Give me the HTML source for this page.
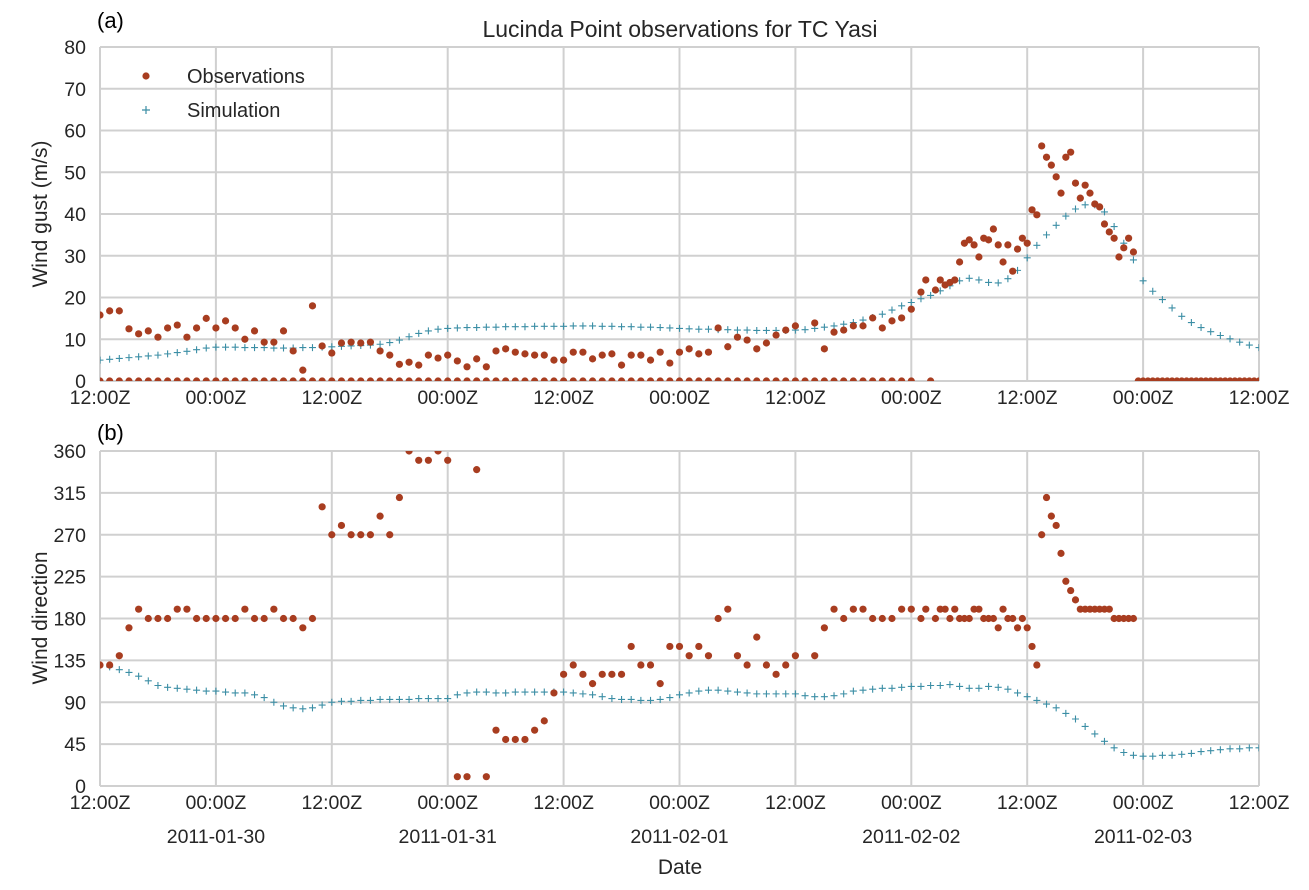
<!DOCTYPE html>
<html><head><meta charset="utf-8"><style>
html,body{margin:0;padding:0;background:#fff;}
svg{display:block;font-family:"Liberation Sans",Arial,sans-serif;}
</style></head><body>
<svg id="chart" width="1309" height="890" viewBox="0 0 1309 890" xmlns="http://www.w3.org/2000/svg">
<defs>
<clipPath id="clipTop"><rect x="100" y="47" width="1159" height="334"/></clipPath>
<clipPath id="clipBot"><rect x="100" y="451" width="1159" height="335"/></clipPath>
</defs>
<text x="680" y="37" font-size="23" text-anchor="middle" fill="#262626">Lucinda Point observations for TC Yasi</text>
<text x="97" y="28" font-size="22" fill="#000">(a)</text>
<text x="97" y="440" font-size="22" fill="#000">(b)</text>
<text transform="translate(47,214) rotate(-90)" font-size="21" text-anchor="middle" fill="#262626">Wind gust (m/s)</text>
<text transform="translate(47,618) rotate(-90)" font-size="21" text-anchor="middle" fill="#262626">Wind direction</text>
<text x="680" y="874" font-size="21" text-anchor="middle" fill="#262626">Date</text>
<g id="gTop"></g>
<g id="gBot"></g>
<g>
<circle cx="146" cy="76" r="3.6" fill="#a83d20"/>
<text x="187" y="83" font-size="20" fill="#262626">Observations</text>
<path d="M142 110h8M146 106v8" stroke="#3b8ea5" stroke-width="1.2"/>
<text x="187" y="117" font-size="20" fill="#262626">Simulation</text>
</g>
</svg>
<script>
const obsHours = [];
for (let h = 0; h <= 85; h++) if (h !== 73) obsHours.push(h);
[85.5,86.5,87,87.5,88,88.5,89,89.5,90,90.5,91,91.5,92,92.5,93,93.5,94,94.5,95,95.5,96,96.5,97,97.5,98,98.5,99,99.5,100,100.5,101,101.5,102,102.5,103,103.5,104,104.5,105,105.5,106,106.5,107].forEach(h=>obsHours.push(h));
const obsGust = [15.8,16.8,16.8,12.5,11.3,12,10.5,12.7,13.4,10.5,12.7,15,12.7,14.4,12.7,10,12,9.3,9.3,12,7.2,2.6,18,8.4,6.7,9.1,9.3,9.1,9.3,7.2,6.2,4,4.5,3.8,6.2,5.5,6.2,4.8,3.4,5.3,3.4,7.2,7.7,6.9,6.5,6.2,6.2,5,5,6.9,6.9,5.3,6.2,6.5,3.8,6.2,6.2,5,6.9,4.3,6.9,7.7,6.5,6.9,12.7,8.2,10.5,9.8,7.7,9.1,11,12.2,13.2,13.9,7.7,11.7,12.2,13.2,13.2,15.1,12.7,14.4,15.1,17.2,21.3,
24.2,21.8,24.2,23,23.6,24.2,28.5,33,33.8,32.6,29.7,34.2,33.8,36.4,32.6,28.5,32.6,26.3,31.6,34.2,33,41,39.8,56.3,53.6,51.7,48.9,45,53.6,54.8,47.4,43.8,46.9,45,42.4,41.7,37.6,35.7,34.2,29.7,31.9,34.2,30.9];
const obsDir = [130,130,140,170,190,180,180,180,190,190,180,180,180,180,180,190,180,180,190,180,180,170,180,300,270,280,270,270,270,290,270,310,360,350,350,360,350,10,10,340,10,60,50,50,50,60,70,100,120,130,120,110,120,120,120,150,130,130,110,150,150,140,150,140,180,190,140,130,160,130,120,130,140,140,170,190,180,190,190,180,180,180,190,190,180,
190,180,190,190,180,190,180,180,180,190,190,180,180,180,170,190,180,180,170,180,170,150,130,270,310,290,280,250,220,210,200,190,190,190,190,190,190,190,180,180,180,180,180];
const zeroHours = [];
for (let h = 0; h <= 84; h++) zeroHours.push(h);
zeroHours.push(86);
for (let h = 107.5; h <= 120; h += 0.5) zeroHours.push(h);
const simGust = [5,5.2,5.4,5.6,5.8,6,6.2,6.5,6.8,7.1,7.5,7.9,8.1,
8.1,8.1,8,8,8,7.9,7.9,7.9,8,8,8.1,8.2,8.3,8.4,8.5,8.6,
8.8,9.2,9.8,10.6,11.4,12,12.4,12.6,
12.7,12.8,12.8,12.9,12.9,13,13,13,13.1,13.1,13.1,13.1,13.2,13.2,13.2,13.1,13.1,13,13,12.9,12.9,12.8,12.7,12.6,
12.5,12.4,12.4,12.3,12.3,12.2,12.2,12.1,12.1,12.1,12.1,12.2,12.3,12.6,12.9,13.2,13.6,14,
14.6,15.2,16,17,18,18.8,19.7,20.5,21.6,22.8,24,24.6,24.2,23.6,23.5,24.5,26.5,29.5,32.5,35,37.3,39.5,41.2,42.2,42.2,40.5,37,33,29,24,21.5,19.5,17.5,15.5,14,12.8,11.8,10.9,10.1,9.3,8.6,8];
const simDir = [130,128,125,122,118,113,108,106,105,104,103,102,102,
101,100,100,98,95,90,86,84,83,84,87,90,
91,91,92,92,93,93,93,93,94,94,94,94,
98,100,101,101,100,100,101,101,101,101,101,101,
100,99,98,96,94,93,93,92,92,93,95,98,
100,102,103,103,102,101,100,99,99,99,99,99,
97,96,96,97,99,102,103,104,105,105,106,107,
107,108,108,109,107,105,105,107,106,104,100,96,
92,88,84,78,72,64,56,48,41,36,33,32,
32,33,33,34,35,37,38,39,40,40,41,41];
const xTickLabels = ["12:00Z","00:00Z","12:00Z","00:00Z","12:00Z","00:00Z","12:00Z","00:00Z","12:00Z","00:00Z","12:00Z"];
const dateLabels = ["2011-01-30","2011-01-31","2011-02-01","2011-02-02","2011-02-03"];
const gustTicks = [0,10,20,30,40,50,60,70,80];
const dirTicks = [0,45,90,135,180,225,270,315,360];

const NS = "http://www.w3.org/2000/svg";
const X0 = 100, X1 = 1259;
const xs = h => X0 + (X1 - X0) * h / 120;
const yTop = v => 381 - (381 - 47) * v / 80;
const yBot = v => 786 - (786 - 451) * v / 360;
function mk(tag, attrs, parent) {
  const e = document.createElementNS(NS, tag);
  for (const k in attrs) e.setAttribute(k, attrs[k]);
  parent.appendChild(e);
  return e;
}
function panel(g, ys, ticks, top, bottom) {
  for (let i = 0; i < ticks.length; i++) {
    const y = ys(ticks[i]);
    const l = mk("line", {x1: X0, x2: X1, y1: y, y2: y, stroke: "#d0d0d0", "stroke-width": 2}, g);
    
    
    const t = mk("text", {x: 86, y: y + 7, "font-size": 19.5, "text-anchor": "end", fill: "#262626"}, g);
    
    
    t.textContent = ticks[i];
  }
  for (let i = 0; i < xTickLabels.length; i++) {
    const x = xs(i * 12);
    const l = mk("line", {x1: x, x2: x, y1: top, y2: bottom, stroke: "#d0d0d0", "stroke-width": 2}, g);
    
    
    const t = mk("text", {x: x, y: bottom + 23, "font-size": 19.5, "text-anchor": "middle", fill: "#262626"}, g);
    
    
    t.textContent = xTickLabels[i];
  }
}
function plus(g, x, y) {
  const p = mk("path", {d: `M${x-3.5} ${y}h7M${x} ${y-3.5}v7`, stroke: "#3b8ea5", "stroke-width": 1.1, fill: "none"}, g);
  
  
}
function dot(g, x, y) {
  const c = mk("circle", {cx: x, cy: y, r: 3.6, fill: "#a83d20"}, g);
  
  
}
const gTop = document.getElementById("gTop");
const gBot = document.getElementById("gBot");
panel(gTop, yTop, gustTicks, 47, 381);
panel(gBot, yBot, dirTicks, 451, 786);
const mTop = mk("g", {"clip-path": "url(#clipTop)"}, gTop);


const mBot = mk("g", {"clip-path": "url(#clipBot)"}, gBot);


simGust.forEach((v, i) => plus(mTop, xs(i), yTop(v)));
simDir.forEach((v, i) => plus(mBot, xs(i), yBot(v)));
zeroHours.forEach(h => dot(mTop, xs(h), yTop(0)));
obsHours.forEach((h, i) => { if (obsGust[i] != null) dot(mTop, xs(h), yTop(obsGust[i])); });
obsHours.forEach((h, i) => { if (obsDir[i] != null) dot(mBot, xs(h), yBot(obsDir[i])); });
dateLabels.forEach((d, i) => {
  const t = mk("text", {x: xs(24 * i + 12), y: 843, "font-size": 19.5, "text-anchor": "middle", fill: "#262626"}, gBot);
  
  
  t.textContent = d;
});
</script>
</body></html>
